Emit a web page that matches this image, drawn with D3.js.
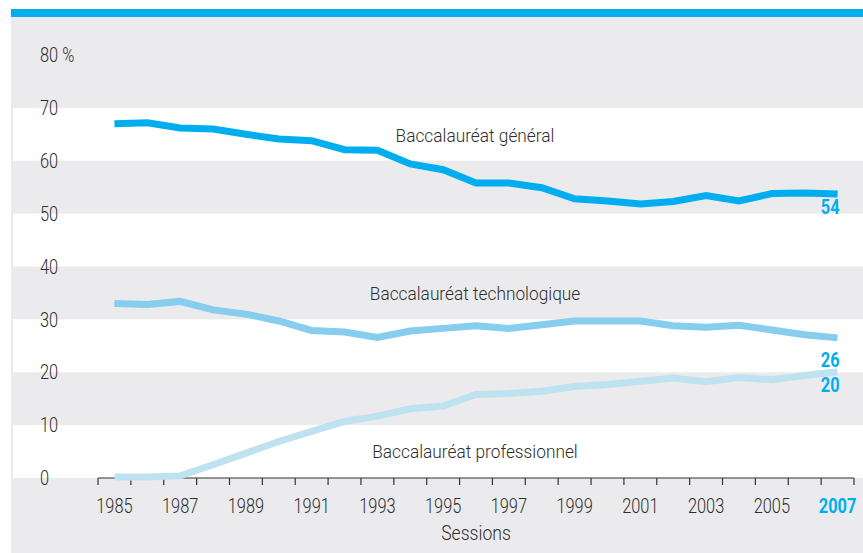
<!DOCTYPE html>
<html>
<head>
<meta charset="utf-8">
<script src="https://cdn.jsdelivr.net/npm/d3@7"></script>
<style>
  body { margin: 0; background: #fff; }
  text { font-family: "Roboto", "Liberation Sans", sans-serif; font-weight: 300; fill: #2e2e2e; }
</style>
</head>
<body>
<div id="chart"></div>
<script>
// data
var years = d3.range(1985, 2008);
var general = [67.0, 67.2, 66.2, 66.0, 65.0, 64.1, 63.8, 62.1, 62.0, 59.4, 58.3, 55.8,
               55.8, 54.9, 52.8, 52.4, 51.8, 52.3, 53.4, 52.4, 53.8, 53.9, 53.7];
var techno = [33.0, 32.8, 33.4, 31.8, 31.0, 29.7, 27.9, 27.6, 26.6, 27.8, 28.3, 28.8,
              28.3, 29.0, 29.7, 29.7, 29.7, 28.8, 28.5, 28.9, 28.0, 27.1, 26.5];
var pro = [0.2, 0.2, 0.4, 2.5, 4.7, 6.9, 8.8, 10.7, 11.7, 13.1, 13.6, 15.8,
           16.0, 16.4, 17.3, 17.7, 18.3, 18.9, 18.2, 19.0, 18.6, 19.4, 20.1];
var yTicks = [0, 10, 20, 30, 40, 50, 60, 70, 80];
var seriesNames = ["Baccalauréat général", "Baccalauréat technologique", "Baccalauréat professionnel"];
var endLabels = ["54", "26", "20"];

var W = 863, H = 553;
var margin = {top: 55, right: 9, bottom: 75, left: 98};

// fake a condensed face by squeezing text horizontally
function at(fx, fy, k) {
  return function(d, i) {
    return "translate(" + fx(d, i) + "," + fy(d, i) + ") scale(" + (k || 0.82) + ",1)";
  };
}

var svg = d3.select("#chart")
  .append("svg")
    .attr("width", W)
    .attr("height", H);

var x = d3.scaleBand()
  .domain(years)
  .range([margin.left, W - margin.right])
  .paddingInner(0).paddingOuter(0);

var y = d3.scaleLinear()
  .domain([0, 80])
  .range([H - margin.bottom, margin.top]);

// background + top bar
svg.append("rect")
  .attr("x", 11).attr("y", 17)
  .attr("width", W - 11).attr("height", H - 17)
  .attr("fill", "#ebebed");
svg.append("rect")
  .attr("x", 11).attr("y", 9)
  .attr("width", W - 11).attr("height", 8)
  .attr("fill", "#00aeef");

// white bands between every other pair of ticks
var bands = [0, 20, 40, 60];
svg.append("g").selectAll("rect")
  .data(bands)
  .join("rect")
    .attr("x", 13)
    .attr("y", function(d) { return y(d + 10); })
    .attr("width", W - 13)
    .attr("height", function(d) { return y(d) - y(d + 10); })
    .attr("fill", "#fff");

// y labels
svg.append("g").selectAll("text")
  .data(yTicks)
  .join("text")
    .attr("transform", at(function() { return 40; }, function(d) { return y(d); }))
    .attr("dy", "0.36em")
    .style("font-size", "20px")
    .text(function(d) { return d === 80 ? "80 %" : d; });

// x axis: ticks at band edges, labels in band centers
var edges = years.map(function(d) { return x(d); }).concat([x.range()[1]]);
var xAxis = svg.append("g");
xAxis.append("line")
  .attr("x1", x.range()[0]).attr("x2", x.range()[1])
  .attr("y1", y(0)).attr("y2", y(0))
  .attr("stroke", "#333").attr("stroke-width", 1.2);
xAxis.selectAll(".tick")
  .data(edges)
  .join("line")
    .attr("class", "tick")
    .attr("x1", function(d) { return d; }).attr("x2", function(d) { return d; })
    .attr("y1", y(0)).attr("y2", y(0) + 7)
    .attr("stroke", "#333").attr("stroke-width", 1.2);
xAxis.selectAll(".lab")
  .data(years.filter(function(d) { return d % 2 === 1; }))
  .join("text")
    .attr("class", "lab")
    .attr("transform", at(function(d) { return x(d) + x.bandwidth() / 2; }, function() { return y(0) + 35; }))
    .attr("text-anchor", "middle")
    .style("font-size", "20px")
    .style("font-weight", function(d) { return d === 2007 ? "bold" : null; })
    .style("fill", function(d) { return d === 2007 ? "#00aeef" : null; })
    .text(function(d) { return d; });

svg.append("text")
  .attr("transform", at(function() { return (x.range()[0] + x.range()[1]) / 2; }, function() { return y(0) + 62; }, 0.88))
  .attr("text-anchor", "middle")
  .style("font-size", "20px")
  .text("Sessions");

// lines
var series = [
  {name: seriesNames[0], values: general, color: "#00aeef", labelDy: 20, nameAt: 64.9},
  {name: seriesNames[1], values: techno, color: "#86cdee", labelDy: 29, nameAt: 35.0},
  {name: seriesNames[2], values: pro, color: "#bfe2f0", labelDy: 20, nameAt: 5.1}
];

var line = d3.line()
  .x(function(d, i) { return x(years[i]) + x.bandwidth() / 2; })
  .y(function(d) { return y(d); });

svg.append("g").selectAll("path")
  .data(series)
  .join("path")
    .attr("fill", "none")
    .attr("stroke", function(d) { return d.color; })
    .attr("stroke-width", 7)
    .attr("d", function(d) { return line(d.values); });

// series names
svg.append("g").selectAll("text")
  .data(series)
  .join("text")
    .attr("transform", at(function() { return 475; }, function(d) { return y(d.nameAt); }, 0.91))
    .attr("dy", "0.36em")
    .attr("text-anchor", "middle")
    .style("font-size", "19px")
    .text(function(d) { return d.name; });

// end values
svg.append("g").selectAll("text")
  .data(series)
  .join("text")
    .attr("transform", at(function() { return x(2007) + x.bandwidth() / 2 + 2; },
                          function(d) { return y(d.values[d.values.length - 1]) + d.labelDy; }))
    .attr("text-anchor", "end")
    .style("font-size", "20px")
    .style("font-weight", "bold")
    .style("fill", "#00aeef")
    .text(function(d, i) { return endLabels[i]; });
</script>
</body>
</html>
